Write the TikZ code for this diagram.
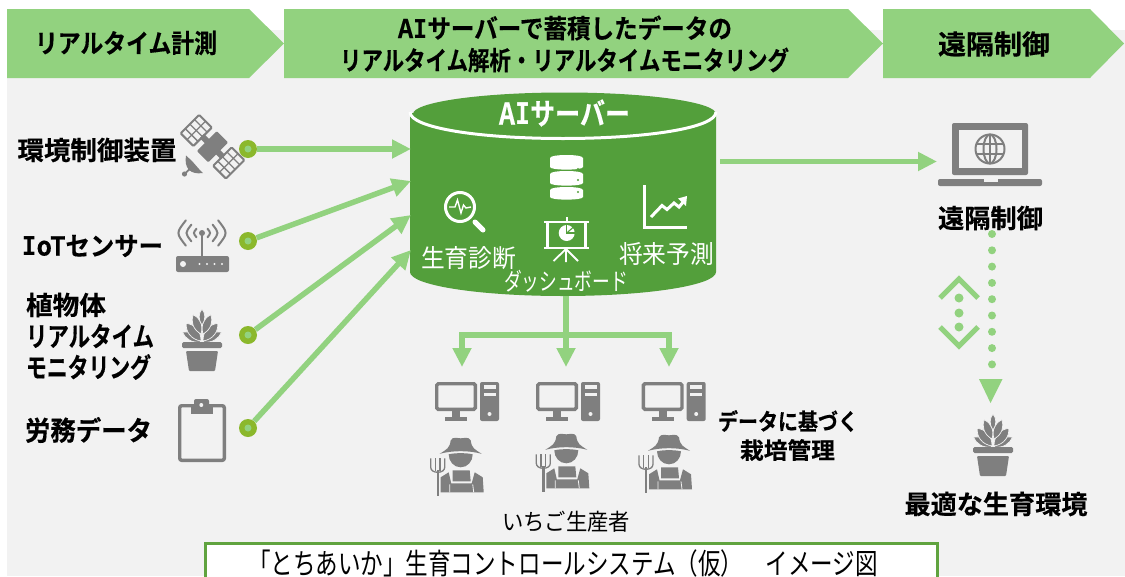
\documentclass[tikz,border=0pt]{standalone}
\usepackage{fontspec}
\usepackage{graphicx}
\usetikzlibrary{arrows.meta}
\newfontfamily\jp{Noto Sans CJK JP}[BoldFont={Noto Sans CJK JP Bold},BoldFeatures={FakeBold=0.35}]
\newfontfamily\lat{DejaVu Sans Mono}[BoldFont={DejaVu Sans Mono Bold}]
\newsavebox\tbx
\newcommand\fitw[3]{\sbox\tbx{\jp\fontsize{#2}{#2}\selectfont #3}\pgfmathsetmacro\rr{#1pt/\wd\tbx}\scalebox{\rr}[1]{\usebox\tbx}}
\newcommand\serifI{{\lat\bfseries I}}
\definecolor{hdr}{HTML}{92D27F}
\definecolor{bggray}{HTML}{F2F2F2}
\definecolor{srv}{HTML}{539F3B}
\definecolor{icon}{HTML}{7F7F7F}
\definecolor{olive}{HTML}{8BB82C}
\definecolor{framec}{HTML}{60A33F}
\tikzset{
 hdrshape/.style={fill=hdr,draw=none},
 lab/.style={inner sep=0pt,outer sep=0pt,font=\bfseries,text=black},
 srvlab/.style={inner sep=0pt,outer sep=0pt,text=white},
 plainlab/.style={inner sep=0pt,outer sep=0pt,text=black},
 dotn/.style={circle,fill=olive,minimum size=18pt,inner sep=0pt},
 dotin/.style={circle,fill=hdr,minimum size=7pt,inner sep=0pt},
 conn/.style={draw=hdr,line width=5.5pt,-{Triangle[length=19pt,width=18pt]}},
 ic/.style={draw=icon,line width=3.4pt},
}
\newcommand\leaf[5]{% base x, base y, angle, length, width
 \fill[icon,draw=bggray,line width=.7pt,shift={(#1,#2)},rotate=#3]
  (0,0) .. controls ({#4*.35},{-#5}) and ({#4*.75},{-#5*.8}) .. (#4,0)
  .. controls ({#4*.75},{#5*.8}) and ({#4*.35},{#5}) .. (0,0) -- cycle;}
\newcommand\plantic[2]{\begin{scope}[shift={(#1,#2)}]
 \leaf{-1}{0}{152}{21}{5.5}\leaf{1}{0}{28}{21}{5.5}
 \leaf{-1}{-1}{130}{23}{7}\leaf{1}{-1}{50}{23}{7}
 \leaf{-1}{-8}{112}{21}{6}\leaf{1}{-8}{68}{21}{6}
 \leaf{0}{-17}{90}{16}{4.2}
 \fill[icon,rounded corners=1.5pt] (-20,0) rectangle (20,6);
 \fill[icon,rounded corners=1pt] (-16,9) -- (16,9) -- (13,29) -- (-13,29) -- cycle;
\end{scope}}
\newcommand\pcic[2]{\begin{scope}[shift={(#1,#2)}]
 \draw[ic,rounded corners=1.5pt] (1.7,1.7) rectangle (40.3,27.3);
 \fill[icon] (17,29) rectangle (25,35);
 \fill[icon] (10,35) rectangle (32,39);
 \fill[icon,rounded corners=2pt] (45,0) rectangle (64,39);
 \fill[bggray] (48.5,3) rectangle (60.5,7);
 \fill[bggray] (48.5,10.5) rectangle (60.5,14);
 \fill[bggray] (54.5,32) circle[radius=2];
\end{scope}}
\newcommand\farmeric[2]{\begin{scope}[shift={(#1,#2)}]
 \fill[icon] (-21,16.5) .. controls (-14,12) and (-11,11) .. (-10,3) .. controls (-8,-1) and (-3,1) .. (0,1) .. controls (3,1) and (8,-1) .. (10,3) .. controls (11,11) and (14,12) .. (21,16.5) .. controls (8,13) and (-8,13) .. (-21,16.5) -- cycle;
 \fill[icon] (-12,17) .. controls (-12,24) and (-7,30) .. (0,30) .. controls (7,30) and (12,24) .. (12,17) .. controls (6,15.5) and (-6,15.5) .. (-12,17) -- cycle;
 \fill[icon] (-20,40) -- (-12,35) -- (-9.5,46) -- (11,46) -- (14,35) -- (22,40) -- (23,55) -- (-20,55) -- cycle;
 \fill[icon] (-8,33) -- (9,33) -- (10,44) -- (-8,44) -- cycle;
 \draw[bggray,line width=.8pt] (-11,55) -- (-11,47) (13,55) -- (12,47);
 \fill[icon] (-24.2,33) rectangle (-21.8,59);
 \draw[icon,line width=1.3pt] (-30,21) -- (-30,30) .. controls (-30,33) and (-27,35) .. (-23,35) .. controls (-19,35) and (-16,33) .. (-16,30) -- (-16,21);
 \draw[icon,line width=1.3pt] (-25.3,21) -- (-25.3,34) (-20.7,21) -- (-20.7,34);
\end{scope}}
\begin{document}
\begin{tikzpicture}[x=1pt,y=-1pt]
\useasboundingbox (0,0) rectangle (1125,576);
\clip (0,0) rectangle (1125,576);
\fill[bggray] (7,30) rectangle (1125,576);
% headers
\fill[hdrshape] (7,9) -- (249,9) -- (284,43.5) -- (249,78) -- (7,78) -- cycle;
\fill[hdrshape] (284,9) -- (848,9) -- (883,43.5) -- (848,78) -- (284,78) -- cycle;
\fill[hdrshape] (883,9) -- (1090,9) -- (1124,43.5) -- (1090,78) -- (883,78) -- cycle;
\node[lab] (h1) at (126,43) {\fitw{182}{26}{\bfseries リアルタイム計測}};
\node[lab] (h2a) at (565,28) {\fitw{334}{26}{\bfseries A\serifI サーバーで蓄積したデータの}};
\node[lab] (h2b) at (564.5,60) {\fitw{449}{26}{\bfseries リアルタイム解析・リアルタイムモニタリング}};
\node[lab] (h3) at (994,44) {\fitw{112}{27}{\bfseries 遠隔制御}};
% server cylinder
\fill[srv] (410,113) -- (716,113) -- (716,272) .. controls (716,285.3) and (647.5,296) .. (563,296) .. controls (478.5,296) and (410,285.3) .. (410,272) -- cycle;
\fill[bggray] (405,88) rectangle (720,113);
\fill[srv] (564.5,114) ellipse[x radius=151.5,y radius=21.5];
\draw[white,line width=3pt] (410,112) .. controls (410,128) and (480,138.5) .. (563,138.5) .. controls (646,138.5) and (716,128) .. (716,112);
\node[srvlab,font=\bfseries] (srvname) at (564.5,113) {\fitw{131}{30}{\bfseries A\serifI サーバー}};
\node[srvlab] (diag) at (468.5,258) {\fitw{95}{25}{生育診断}};
\node[srvlab] (pred) at (666.5,254) {\fitw{95}{25}{将来予測}};
\node[srvlab] (dash) at (566,281) {\fitw{124}{24}{ダッシュボード}};
% database icon
\foreach \t/\b in {155/167,171/183,187/197}{
 \fill[white] (550,\t+3) .. controls (550,\t-1) and (583,\t-1) .. (583,\t+3) -- (583,\b) .. controls (583,\b+3.5) and (550,\b+3.5) .. (550,\b) -- cycle;}
\fill[srv] (578,169) circle[radius=1.1];
\fill[srv] (578,180) circle[radius=1.1];
\fill[srv] (578,192) circle[radius=1.1];
% magnifier
\draw[white,line width=3pt] (460,207) circle[radius=14.5];
\draw[white,line width=5pt,line cap=round] (475,222) -- (483,230);
\draw[white,line width=1.4pt] (449,207) -- (455,207) -- (457.5,200) -- (461,213) -- (463.5,205) -- (466,208) -- (471,207);
% presentation
\fill[white] (544,220.7) rectangle (589,223);
\fill[white] (544,246.7) rectangle (589,249);
\fill[white] (565.7,216.7) rectangle (567.7,221);
\draw[white,line width=2.2pt] (547.5,222) -- (547.5,247) (585.5,222) -- (585.5,247);
\fill[white] (566.7,233) circle[radius=8];
\draw[srv,line width=1.1pt] (566.7,225) -- (566.7,233) -- (575.7,233);
\draw[srv,line width=1.1pt] (566.7,233) -- (573,227.5);
\draw[white,line width=1.8pt] (566,249) -- (553.5,261) (566,249) -- (566,262) (566,249) -- (578,261);
% chart
\draw[white,line width=3pt] (644,185) -- (644,227) -- (687,227);
\draw[white,line width=3pt] (651,217) -- (662,205.5) -- (667,209.5) -- (674,203) -- (679,207) -- (684,201);
\fill[white] (687,196) -- (686,206) -- (678,198.5) -- cycle;
% left labels
\node[lab] (l1) at (97,150) {\fitw{159}{26}{\bfseries 環境制御装置}};
\node[lab] (l2) at (92.5,246) {\fitw{141}{26}{\bfseries \serifI oTセンサー}};
\node[lab,anchor=west] (l3a) at (26,305) {\fitw{80}{26}{\bfseries 植物体}};
\node[lab,anchor=west] (l3b) at (26,336) {\fitw{128}{27}{\bfseries リアルタイム}};
\node[lab,anchor=west] (l3c) at (26,367) {\fitw{125}{27}{\bfseries モニタリング}};
\node[lab,anchor=west] (l4) at (25,430) {\fitw{127}{27}{\bfseries 労務データ}};
% satellite
\begin{scope}[shift={(212.5,146.7)},rotate=-45]
 \foreach \cx in {-23,23}{
  \draw[icon,line width=2pt,rounded corners=1pt] (\cx-9,-13) rectangle (\cx+9,13);
  \draw[icon,line width=1.3pt] (\cx,-13) -- (\cx,13) (\cx-9,-6.5) -- (\cx+9,-6.5) (\cx-9,0) -- (\cx+9,0) (\cx-9,6.5) -- (\cx+9,6.5);}
 \fill[icon,rounded corners=1pt] (-8,-14) rectangle (8,14);
 \fill[icon] (-15,-3) rectangle (15,3);
\end{scope}
\fill[icon] (186,155.5) .. controls (184,168) and (190,175) .. (203,173) -- (199,169) -- (192,161) -- cycle;
\draw[icon,line width=1.8pt] (193,166) -- (184.5,174);
\fill[icon] (184.5,174) circle[radius=2.6];
% router
\foreach \r in {7,13.5,20.5}{
 \draw[icon,line width=2pt,line cap=round] ({202+\r*cos(38)},{233-\r*sin(38)}) .. controls ({202+\r/cos(38)},233) .. ({202+\r*cos(38)},{233+\r*sin(38)});
 \draw[icon,line width=2pt,line cap=round] ({202-\r*cos(38)},{233-\r*sin(38)}) .. controls ({202-\r/cos(38)},233) .. ({202-\r*cos(38)},{233+\r*sin(38)});}
\fill[icon] (202,233) circle[radius=3];
\fill[icon] (201,233) rectangle (203,257);
\fill[icon,rounded corners=2pt] (176,256) rectangle (229,272);
\fill[bggray] (183,264) circle[radius=3];
\foreach \x in {199.5,207,214.5,222}{\fill[bggray] (\x,264) circle[radius=1.1];}
% plants
\plantic{202}{342}
\plantic{993}{447}
% clipboard
\draw[icon,line width=3.4pt,rounded corners=2pt] (179.7,405.7) rectangle (224.3,460.3);
\fill[icon,rounded corners=2pt] (194,399) rectangle (209,410);
\fill[icon] (191,407) rectangle (213,413.5);
\fill[bggray] (201.3,405) circle[radius=2];
% connectors
\node[dotn] (d1) at (248,149) {};
\node[dotn] (d2) at (248,241) {};
\node[dotn] (d3) at (248,335) {};
\node[dotn] (d4) at (248,428) {};
\coordinate (t1) at (411,149);
\coordinate (t2) at (411,181);
\coordinate (t3) at (411,215);
\coordinate (t4) at (411,250);
\draw[conn] (d1) -- (t1);
\draw[conn] (d2) -- (t2);
\draw[conn] (d3) -- (t3);
\draw[conn] (d4) -- (t4);
\node[dotin] (d1i) at (d1) {};
\node[dotin] (d2i) at (d2) {};
\node[dotin] (d3i) at (d3) {};
\node[dotin] (d4i) at (d4) {};
% output arrow
\coordinate (so) at (720,161.5);
\coordinate (lap) at (937,161.5);
\draw[conn] (so) -- (lap);
% laptop
\fill[icon,rounded corners=2pt] (952,123) -- (1028,123) -- (1028,175) -- (952,175) -- cycle;
\fill[bggray] (959,130) rectangle (1022,168);
\fill[icon,rounded corners=2pt] (938,179) -- (1042,179) -- (1042,186) -- (938,186) -- cycle;
\fill[bggray] (983.5,179) rectangle (997.5,181.5);
\begin{scope}[icon,line width=2pt]
 \draw (990,149) circle[radius=14.5];
 \draw (990,149) ellipse[x radius=6.5,y radius=14.5];
 \draw (990,134.5) -- (990,163.5) (977,144) -- (1003,144) (977,154) -- (1003,154);
\end{scope}
\node[lab] (remote) at (990.5,218) {\fitw{105}{26}{\bfseries 遠隔制御}};
% tree
\coordinate (trunkb) at (566,296);
\coordinate (tree) at (566,335);
\coordinate (tl) at (462,335);
\coordinate (tr) at (669,335);
\coordinate (fl) at (462,367);
\coordinate (fm) at (566,367);
\coordinate (fr) at (669,367);
\draw[conn] (trunkb) -- (fm);
\draw[conn,line join=miter] (tree) -- (tl) -- (fl);
\draw[conn,line join=miter] (tree) -- (tr) -- (fr);
% computers and farmers
\pcic{435}{382}
\pcic{536}{382}
\pcic{641.7}{382}
\farmeric{460.7}{437.3}
\farmeric{566.3}{433.3}
\farmeric{669}{434.3}
\node[lab] (basis) at (788,421) {\fitw{140}{23}{\bfseries データに基づく}};
\node[lab] (mgmt) at (787.5,450) {\fitw{95}{23}{\bfseries 栽培管理}};
\node[plainlab] (grower) at (566,522) {\fitw{128}{23}{いちご生産者}};
% dotted
\coordinate (rc) at (990.5,234);
\coordinate (rg) at (990.5,403);
\draw[hdr,line width=8pt,line cap=round,dash pattern=on 0pt off 16.3pt] (992,234) -- (992,378);
\fill[hdr] (979,379) -- (1002.5,379) -- (990.5,403) -- cycle;
% up-down icon
\draw[hdr,line width=5pt] (940,298) -- (959,279) -- (978,298);
\draw[hdr,line width=5pt] (940,327) -- (959,346) -- (978,327);
\foreach \y in {298,313,327}{\fill[hdr] (959,\y) circle[radius=4.5];}
\node[lab] (best) at (996,504) {\fitw{183}{26}{\bfseries 最適な生育環境}};
% title
\draw[framec,line width=3pt,fill=white] (205,543) rectangle (937,600);
\node[plainlab] (title) at (563,563) {\fitw{630}{29}{「とちあいか」生育コントロールシステム（仮）　イメージ図}};
\end{tikzpicture}
\end{document}
